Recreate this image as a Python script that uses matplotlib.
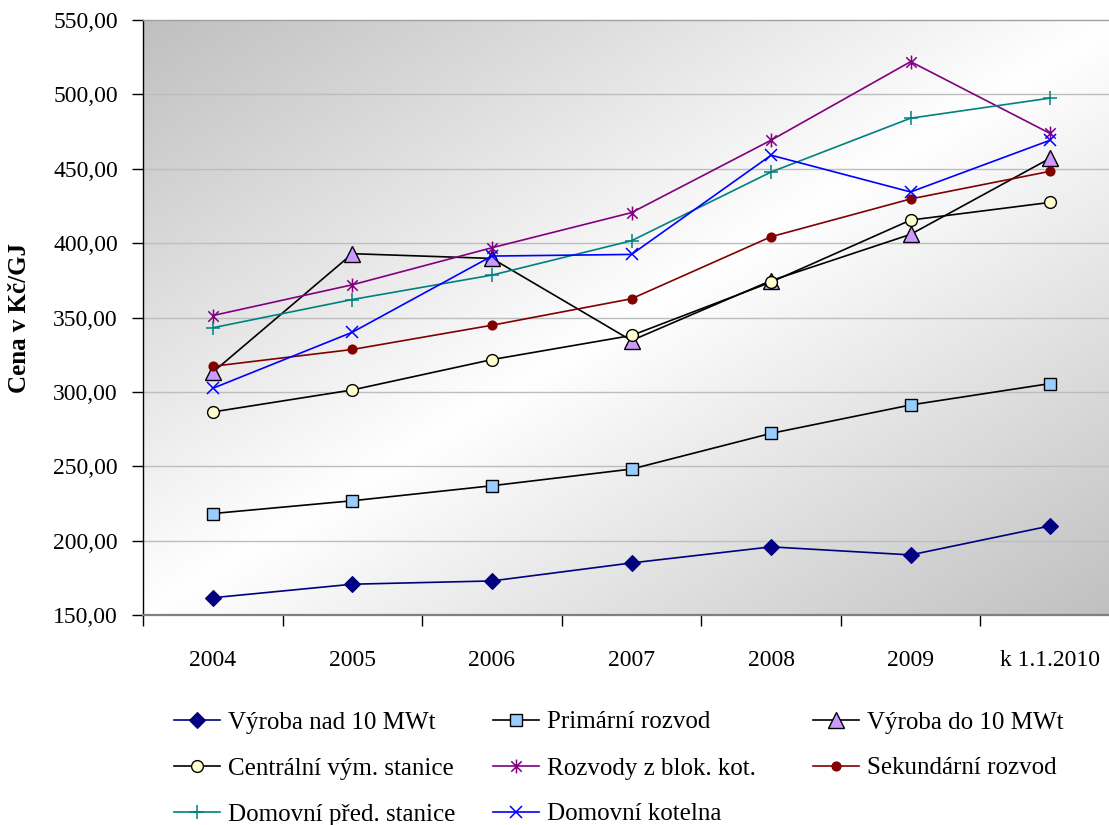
import numpy as np
import matplotlib
matplotlib.use("Agg")
import matplotlib.pyplot as plt
from matplotlib.path import Path
from matplotlib.ticker import FixedLocator, FuncFormatter

plt.rcParams['font.family'] = ['Liberation Serif', 'DejaVu Serif']

# Categories and prices (Kč/GJ)
years = ['2004', '2005', '2006', '2007', '2008', '2009', 'k 1.1.2010']
vyroba_nad_10 = [161.6, 170.7, 172.9, 185.0, 195.8, 190.4, 209.9]
primarni_rozvod = [218.2, 226.8, 236.9, 248.1, 272.1, 291.2, 305.6]
vyroba_do_10 = [313.2, 392.9, 389.7, 334.5, 374.8, 405.9, 457.1]
centralni_stanice = [286.5, 301.3, 321.7, 337.9, 373.8, 415.5, 427.4]
rozvody_blok = [351.3, 372.0, 396.9, 420.5, 469.2, 522.0, 473.7]
sekundarni_rozvod = [317.2, 328.5, 344.8, 362.6, 404.3, 429.7, 448.3]
domovni_pred = [343.1, 362.1, 378.5, 401.6, 447.8, 484.0, 497.5]
domovni_kotelna = [302.4, 340.1, 391.3, 392.4, 459.1, 434.4, 469.2]

series_labels = ['Výroba nad 10 MWt', 'Primární rozvod', 'Výroba do 10 MWt',
                 'Centrální vým. stanice', 'Rozvody z blok. kot.', 'Sekundární rozvod',
                 'Domovní před. stanice', 'Domovní kotelna']
series_values = [vyroba_nad_10, primarni_rozvod, vyroba_do_10, centralni_stanice,
                 rozvody_blok, sekundarni_rozvod, domovni_pred, domovni_kotelna]

y_ticks = [150, 200, 250, 300, 350, 400, 450, 500, 550]

# Asterisk marker: vertical bar crossed by an X
s = 0.75
asterisk = Path([(0, -1), (0, 1), (-s, -s), (s, s), (-s, s), (s, -s)],
                [Path.MOVETO, Path.LINETO, Path.MOVETO, Path.LINETO, Path.MOVETO, Path.LINETO])

styles = [
    dict(color='#000080', marker='D', ms=8, mfc='#000080', mec='#000080', mew=0.8),
    dict(color='black', marker='s', ms=9, mfc='#99CCFF', mec='black', mew=1.0),
    dict(color='black', marker='^', ms=11, mfc='#CC99FF', mec='black', mew=1.0),
    dict(color='black', marker='o', ms=8.5, mfc='#FFFFCC', mec='black', mew=1.0),
    dict(color='#800080', marker=asterisk, ms=10, mfc='none', mec='#800080', mew=1.1),
    dict(color='#800000', marker='o', ms=6.5, mfc='#800000', mec='#800000', mew=0.8),
    dict(color='#008080', marker='+', ms=10, mec='#008080', mew=1.1),
    dict(color='#0000FF', marker='x', ms=9, mec='#0000FF', mew=1.1),
]

W, H = 1109, 825
fig = plt.figure(figsize=(W / 100, H / 100), dpi=100)
ax_left, ax_right, ax_top, ax_bottom = 143, 1120, 20, 615
ax = fig.add_axes([ax_left / W, 1 - ax_bottom / H,
                   (ax_right - ax_left) / W, (ax_bottom - ax_top) / H])

x = np.arange(len(years))
ax.set_xlim(-0.5, len(years) - 0.5)
ax.set_ylim(150, 550)

# Diagonal gray-white-gray background fill
n = 300
u = np.linspace(0, 1, n)
v = np.linspace(1, 0, n)
U, V = np.meshgrid(u, v)
d = (U + (1 - V)) / 2
g = 1 - 0.25 * np.abs(2 * d - 1)
bg = np.dstack([g, g, g])
ax.imshow(bg, extent=(-0.5, len(years) - 0.5, 150, 550), aspect='auto',
          zorder=0, interpolation='bilinear')

for yv in y_ticks[1:-1]:
    ax.axhline(yv, color='#BDBDBD', lw=1.0, zorder=1)

handles = []
for vals, st, lab in zip(series_values, styles, series_labels):
    ln, = ax.plot(x, vals, lw=1.2, zorder=3, label=lab, clip_on=False, **st)
    handles.append(ln)

# Axes styling
ax.spines['right'].set_visible(False)
ax.spines['top'].set_color('#A0A0A0')
ax.spines['top'].set_linewidth(1.0)
ax.spines['left'].set_color('black')
ax.spines['left'].set_linewidth(1.0)
ax.spines['bottom'].set_color('#808080')
ax.spines['bottom'].set_linewidth(1.6)

ax.yaxis.set_major_locator(FixedLocator(y_ticks))
ax.yaxis.set_major_formatter(FuncFormatter(lambda val, pos: f"{val:.2f}".replace('.', ',')))
ax.tick_params(axis='y', direction='out', length=8, width=1, color='black',
               labelsize=17, pad=10)

ax.xaxis.set_major_locator(FixedLocator(np.arange(-0.5, len(years) - 0.5, 1.0)))
ax.xaxis.set_major_formatter(FuncFormatter(lambda val, pos: ''))
ax.xaxis.set_minor_locator(FixedLocator(x))
ax.set_xticklabels(years, minor=True)
ax.tick_params(axis='x', which='major', direction='out', length=8, width=1, color='black')
ax.tick_params(axis='x', which='minor', length=0, labelsize=17, pad=25)

fig.text(20 / W, 1 - 318 / H, 'Cena v Kč/GJ', rotation=90, ha='center', va='center',
         fontsize=18, fontweight='bold')

# Legend laid out in three fixed columns, filled row by row
col_x = [174, 493, 813]
cols = [[0, 3, 6], [1, 4, 7], [2, 5]]
fs = 18
for cx, idxs in zip(col_x, cols):
    fig.legend([handles[i] for i in idxs], [series_labels[i] for i in idxs],
               loc='upper left', bbox_to_anchor=(cx / W, 1 - 711 / H),
               frameon=False, fontsize=fs, borderpad=0, borderaxespad=0,
               handlelength=1.84, handletextpad=0.32, labelspacing=0.94,
               numpoints=1)

fig.savefig('out.png', dpi=100)
